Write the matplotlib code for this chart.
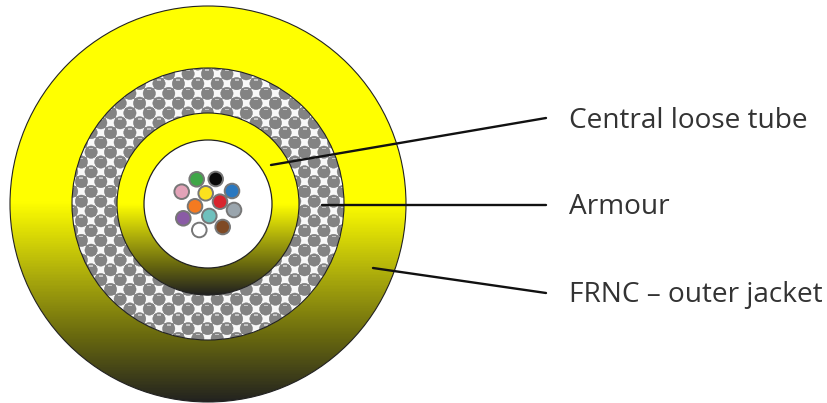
import numpy as np
import matplotlib
matplotlib.use("Agg")
import matplotlib.pyplot as plt
from matplotlib.colors import LinearSegmentedColormap
from matplotlib.patches import Circle, Rectangle
from matplotlib.collections import PatchCollection

W, H = 828, 403
CX, CY = 208, 204
R_OUTER, R_ARMOUR, R_TUBE, R_CORE = 198, 136, 91, 64

fibre_x = [196.7, 215.7, 181.7, 205.7, 232, 220, 195, 234, 183.3, 209.3, 199.3, 222.7]
fibre_y = [179.3, 179, 191.7, 193.3, 191, 201.7, 206.3, 210, 218.3, 216, 230, 227]
fibre_colors = ["#3fa648", "#0a0a0a", "#e3a3b8", "#fbe11e", "#2a78c0", "#d8252e",
                "#f47a20", "#9aa5ad", "#8a5ba5", "#6fc0bd", "#ffffff", "#7f4a25"]

labels = ["Central loose tube", "Armour", "FRNC – outer jacket"]
label_y = [121, 207, 295]
leader_start_x = [271, 322, 373]
leader_start_y = [165, 205, 268]
leader_end_x = [546, 546, 546]
leader_end_y = [118, 205, 293]

fig = plt.figure(figsize=(W / 100, H / 100), dpi=100)
ax = fig.add_axes([0, 0, 1, 1])
ax.set_xlim(0, W)
ax.set_ylim(H, 0)
ax.axis("off")

cmap = LinearSegmentedColormap.from_list(
    "jacket", [(0, "#ffff00"), (0.50, "#ffff00"), (0.69, "#a9a90c"),
               (0.84, "#67670f"), (1, "#222220")])


def gradient_disc(radius, z, y0=0, y1=H):
    clip = Circle((CX, CY), radius, transform=ax.transData)
    im = ax.imshow(np.linspace(0, 1, 400).reshape(-1, 1), cmap=cmap, aspect="auto",
                   extent=(0, W, y1, y0), zorder=z, interpolation="bilinear")
    im.set_clip_path(clip)
    ax.add_patch(Circle((CX, CY), radius, fc="none", ec="#222222", lw=0.8, zorder=z + 0.5))


gradient_disc(R_OUTER, 1)

# armour weave
ax.add_patch(Circle((CX, CY), R_ARMOUR, fc="#a4a4a4", ec="none", zorder=2))
clip = Circle((CX, CY), R_ARMOUR, transform=ax.transData)
px, py = 19.4, 9.8
sq, balls, shine = [], [], []
for j, yy in enumerate(np.arange(CY - 140, CY + 140, py)):
    off = (j % 2) * px / 2
    for xx in np.arange(CX - 146, CX + 146, px):
        sq.append(Rectangle((xx + off + px / 2 - 4.6, yy - 4.6), 9.2, 9.2))
        balls.append(Circle((xx + off, yy), 6.2))
        shine.append(Rectangle((xx + off - 2.0, yy - 4.4), 4.0, 1.5))
pc = PatchCollection(sq, fc="#f8f8f8", ec="none", zorder=2.1)
ax.add_collection(pc); pc.set_clip_path(clip)
pc = PatchCollection(balls, fc="#838383", ec="#7a7a7a", lw=0.3, zorder=2.2)
ax.add_collection(pc); pc.set_clip_path(clip)
pc = PatchCollection(shine, fc="#c4c4c4", ec="none", zorder=2.3)
ax.add_collection(pc); pc.set_clip_path(clip)
ax.add_patch(Circle((CX, CY), R_ARMOUR, fc="none", ec="#222222", lw=0.8, zorder=2.5))

gradient_disc(R_TUBE, 3, y0=CY - R_TUBE, y1=CY + R_TUBE)
ax.add_patch(Circle((CX, CY), R_CORE, fc="white", ec="#222222", lw=0.9, zorder=4))

for x, y, c in zip(fibre_x, fibre_y, fibre_colors):
    ax.add_patch(Circle((x, y), 7.3, fc=c, ec="#777777", lw=1.4, zorder=5))

for xs, ys, xe, ye, lab, ly in zip(leader_start_x, leader_start_y, leader_end_x,
                                   leader_end_y, labels, label_y):
    ax.plot([xs, xe], [ys, ye], color="#111111", lw=1.7, zorder=6, solid_capstyle="round")
    ax.text(569, ly, lab, fontsize=20.2, family="Open Sans", color="#333333",
            va="center", ha="left", zorder=7)

ax.set_xlim(0, W)
ax.set_ylim(H, 0)
fig.savefig("out.png", dpi=100, facecolor="white")
